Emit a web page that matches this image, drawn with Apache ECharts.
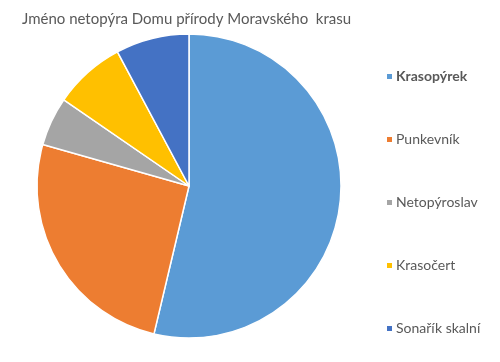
<!DOCTYPE html>
<html><head><meta charset="utf-8">
<script src="https://cdn.jsdelivr.net/npm/echarts@6/dist/echarts.min.js"></script>
<style>html,body{margin:0;padding:0;background:#fff}#c{width:500px;height:362px}</style>
</head><body><div id="c"></div>
<script>
const titleText = 'Jméno netopýra Domu přírody Moravského  krasu';
const categories = ['Krasopýrek', 'Punkevník', 'Netopýroslav', 'Krasočert', 'Sonařík skalní'];
const values = [53.7, 25.7, 5.2, 7.6, 7.8];
const colors = ['#5B9BD5', '#ED7D31', '#A5A5A5', '#FFC000', '#4472C4'];
const font = 'Lato, "Open Sans", sans-serif';
const chart = echarts.init(document.getElementById('c'));
chart.setOption({
  animation: false,
  title: { text: titleText, left: 17, top: 7, textStyle: { fontFamily: font, fontSize: 15, fontWeight: 'normal', color: '#595959' } },
  legend: {
    orient: 'vertical', left: 380, top: 64, itemGap: 48, itemWidth: 7, itemHeight: 7, icon: 'rect',
    data: categories,
    formatter: n => n === categories[0] ? '{b|' + n + '}' : n,
    textStyle: { fontFamily: font, fontSize: 14, lineHeight: 15, color: '#595959', padding: [0,0,0,-2],
      rich: { b: { fontFamily: font, fontSize: 14, lineHeight: 15, fontWeight: 'bold', color: '#595959' } } }
  },
  series: [{
    type: 'pie', center: [189, 186], radius: 152, startAngle: 90, clockwise: true,
    label: { show: false }, labelLine: { show: false },
    itemStyle: { borderColor: '#fff', borderWidth: 1.5 },
    emphasis: { disabled: true },
    data: categories.map((n, i) => ({ name: n, value: values[i], itemStyle: { color: colors[i] } }))
  }]
});
</script></body></html>
